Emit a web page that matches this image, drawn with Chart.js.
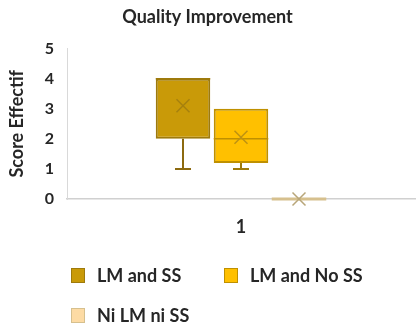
<!DOCTYPE html>
<html><head><meta charset="utf-8">
<script src="https://cdn.jsdelivr.net/npm/chart.js@4/dist/chart.umd.min.js"></script>
<style>
html,body{margin:0;padding:0;background:#fff;}
#wrap{position:relative;width:416px;height:327px;overflow:hidden;}
#c{position:absolute;left:0;top:0;}
.lg{position:absolute;display:flex;align-items:center;font:bold 18px Lato, "Open Sans", sans-serif;color:#262626;white-space:nowrap;}
.sw{width:14px;height:15px;box-sizing:border-box;border:1.5px solid;margin-right:12px;}
</style>
</head><body>
<div id="wrap"><canvas id="c" width="416" height="327"></canvas><div id="legend"></div></div>
<script>
const categories = ['1'];
const seriesNames = ['LM and SS', 'LM and No SS', 'Ni LM ni SS'];
const q1Values = [2, 1.2, 0];
const q3Values = [4, 3, 0];
const medianValues = [4, 2, 0];
const minValues = [1, 1, 0];
const maxValues = [4, 3, 0];
const meanValues = [3.1, 2.05, 0];
const yTicks = [0, 1, 2, 3, 4, 5];

const fills = ['#C99A08', '#FFC000', '#FDDBA4'];
const borders = ['#9E7A0C', '#BF9000', '#D6C08E'];
const meanColors = ['#A6800E', '#BE9212', '#B8A679'];
const whiskerColors = ['#8C6A10', '#9E7A0C', '#C8B382'];

const datasets = seriesNames.map((name, i) => ({
  label: name,
  data: [[q1Values[i], q3Values[i]]],
  backgroundColor: fills[i],
  borderColor: borders[i],
  borderWidth: 2,
  borderSkipped: false,
  categoryPercentage: 0.5,
  barPercentage: 0.94
}));

const boxPlugin = {
  id: 'boxExtras',
  afterDatasetsDraw(chart) {
    const ctx = chart.ctx;
    const y = chart.scales.y;
    seriesNames.forEach((n, i) => {
      const bar = chart.getDatasetMeta(i).data[0];
      if (!bar) return;
      const x = bar.x, w = bar.width;
      ctx.save();
      ctx.strokeStyle = whiskerColors[i];
      ctx.lineWidth = 2;
      const cap = 16;
      if (minValues[i] < q1Values[i]) {
        ctx.beginPath();
        ctx.moveTo(x, y.getPixelForValue(q1Values[i]));
        ctx.lineTo(x, y.getPixelForValue(minValues[i]));
        ctx.moveTo(x - cap / 2, y.getPixelForValue(minValues[i]));
        ctx.lineTo(x + cap / 2, y.getPixelForValue(minValues[i]));
        ctx.stroke();
      }
      if (maxValues[i] > q3Values[i]) {
        ctx.beginPath();
        ctx.moveTo(x, y.getPixelForValue(q3Values[i]));
        ctx.lineTo(x, y.getPixelForValue(maxValues[i]));
        ctx.moveTo(x - cap / 2, y.getPixelForValue(maxValues[i]));
        ctx.lineTo(x + cap / 2, y.getPixelForValue(maxValues[i]));
        ctx.stroke();
      }
      ctx.strokeStyle = borders[i];
      ctx.lineWidth = (q1Values[i] === q3Values[i]) ? 3 : 1.5;
      const my = y.getPixelForValue(medianValues[i]);
      ctx.beginPath();
      ctx.moveTo(x - w / 2, my);
      ctx.lineTo(x + w / 2, my);
      ctx.stroke();
      const mY = y.getPixelForValue(meanValues[i]);
      const s = 6.5;
      ctx.strokeStyle = meanColors[i];
      ctx.lineWidth = 1.5;
      ctx.beginPath();
      ctx.moveTo(x - s, mY - s); ctx.lineTo(x + s, mY + s);
      ctx.moveTo(x + s, mY - s); ctx.lineTo(x - s, mY + s);
      ctx.stroke();
      ctx.restore();
    });
  }
};

const FONT = 'Lato, "Open Sans", sans-serif';
new Chart(document.getElementById('c'), {
  type: 'bar',
  data: { labels: categories, datasets },
  options: {
    responsive: false,
    animation: false,
    layout: { padding: { left: 0, right: 1, top: 0, bottom: 0 } },
    plugins: {
      legend: { display: false },
      tooltip: { enabled: false },
      title: {
        display: true,
        text: 'Quality Improvement',
        color: '#262626',
        font: { family: FONT, size: 18, weight: 'bold' },
        padding: { top: 6, bottom: 21 }
      }
    },
    scales: {
      x: {
        grid: { display: false, drawTicks: false },
        border: { display: true, color: '#D0D0D0', width: 1.5 },
        ticks: { color: '#262626', font: { family: FONT, size: 18, weight: 'bold' }, padding: 17 },
        afterFit: s => { s.height = 128; }
      },
      y: {
        min: 0, max: 5,
        afterBuildTicks: s => { s.ticks = yTicks.map(v => ({ value: v })); },
        grid: { display: false, drawTicks: false },
        border: { display: true, color: '#D9D9D9', width: 1 },
        ticks: { color: '#262626', font: { family: FONT, size: 16, weight: 'bold' }, padding: 13 },
        title: {
          display: true, text: 'Score Effectif', color: '#262626',
          font: { family: FONT, size: 18, weight: 'bold' },
          padding: { top: 6, bottom: 0 }
        },
        afterFit: s => { s.width = 67; }
      }
    }
  },
  plugins: [boxPlugin]
});

const legendPos = [[71, 275], [224, 275], [71, 315]];
const lg = document.getElementById('legend');
seriesNames.forEach((name, i) => {
  const d = document.createElement('div');
  d.className = 'lg';
  d.style.left = legendPos[i][0] + 'px';
  d.style.top = (legendPos[i][1] - 11) + 'px';
  d.style.height = '22px';
  const sw = document.createElement('span');
  sw.className = 'sw';
  sw.style.background = fills[i];
  sw.style.borderColor = borders[i];
  const t = document.createElement('span');
  t.textContent = name;
  d.appendChild(sw); d.appendChild(t);
  lg.appendChild(d);
});
</script>
</body></html>
